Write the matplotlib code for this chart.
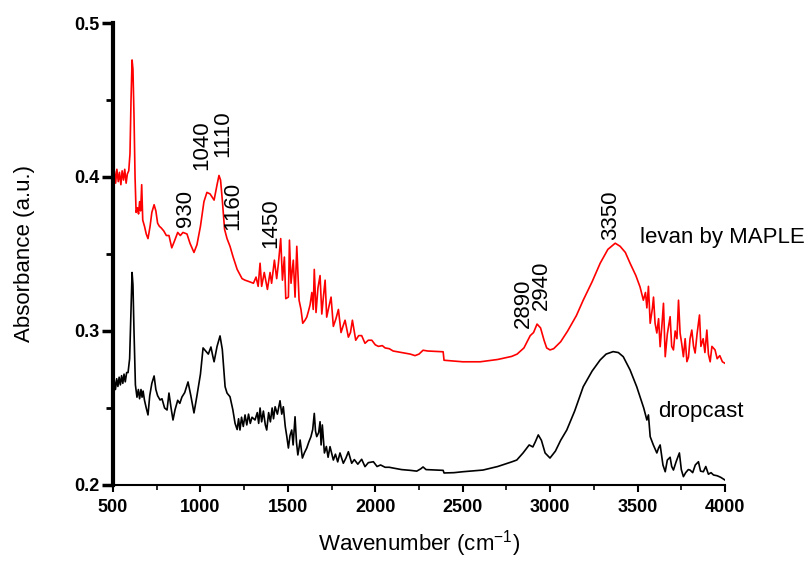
import matplotlib
matplotlib.use('Agg')
import matplotlib.pyplot as plt
from matplotlib.ticker import MultipleLocator

plt.rcParams['font.family'] = ['Liberation Sans', 'DejaVu Sans']
plt.rcParams['mathtext.default'] = 'regular'

# espectro levan por MAPLE (rojo)
maple_wn = [500, 508, 515, 522, 530, 537, 545, 552, 560, 567, 575, 582, 590, 597, 603, 609, 614, 620, 626, 632,
            640, 646, 652, 658, 664, 670, 680, 690, 700, 712, 722, 735, 745, 755, 765, 775, 790, 805, 820, 836,
            850, 870, 885, 900, 923, 940, 963, 980, 1000, 1020, 1037, 1055, 1078, 1095, 1106, 1115, 1125, 1138, 1152, 1169,
            1187, 1210, 1238, 1255, 1280, 1303, 1318, 1330, 1341, 1350, 1365, 1383, 1398, 1407, 1423, 1436, 1446, 1459, 1469, 1480,
            1488, 1503, 1509, 1518, 1531, 1541, 1551, 1564, 1575, 1585, 1598, 1608, 1618, 1627, 1637, 1645, 1651, 1661, 1672, 1684,
            1694, 1703, 1713, 1722, 1735, 1747, 1760, 1775, 1789, 1804, 1815, 1827, 1846, 1858, 1869, 1888, 1905, 1922, 1941, 1960,
            1980, 2000, 2018, 2040, 2056, 2080, 2102, 2150, 2200, 2227, 2250, 2273, 2300, 2388, 2393, 2450, 2500, 2600, 2700, 2780,
            2811, 2850, 2886, 2905, 2925, 2945, 2965, 2980, 2999, 3020, 3060, 3100, 3150, 3189, 3240, 3286, 3330, 3372, 3400, 3430,
            3457, 3490, 3514, 3533, 3545, 3553, 3562, 3572, 3585, 3591, 3600, 3610, 3620, 3629, 3640, 3648, 3658, 3670, 3686, 3695,
            3705, 3715, 3725, 3734, 3743, 3752, 3762, 3772, 3782, 3791, 3800, 3810, 3820, 3829, 3840, 3848, 3854, 3862, 3875, 3885,
            3896, 3905, 3915, 3925, 3943, 3955, 3970, 3985, 4000]
maple_abs = [0.399, 0.404, 0.396, 0.405, 0.397, 0.403, 0.395, 0.404, 0.398, 0.405, 0.396, 0.402, 0.404, 0.415, 0.450, 0.476, 0.470, 0.440, 0.400, 0.377,
             0.380, 0.376, 0.384, 0.378, 0.395, 0.372, 0.368, 0.363, 0.360, 0.368, 0.377, 0.382, 0.378, 0.370, 0.368, 0.367, 0.365, 0.362, 0.362, 0.354,
             0.358, 0.364, 0.362, 0.364, 0.363, 0.357, 0.351, 0.356, 0.368, 0.384, 0.390, 0.389, 0.385, 0.395, 0.401, 0.398, 0.385, 0.366, 0.360, 0.355,
             0.348, 0.340, 0.334, 0.333, 0.332, 0.331, 0.335, 0.329, 0.344, 0.329, 0.338, 0.327, 0.338, 0.331, 0.346, 0.334, 0.344, 0.360, 0.333, 0.348,
             0.321, 0.322, 0.359, 0.331, 0.346, 0.322, 0.355, 0.320, 0.314, 0.305, 0.307, 0.309, 0.313, 0.317, 0.325, 0.314, 0.340, 0.312, 0.328, 0.336,
             0.311, 0.322, 0.333, 0.309, 0.316, 0.322, 0.303, 0.308, 0.314, 0.299, 0.303, 0.307, 0.296, 0.299, 0.307, 0.294, 0.297, 0.297, 0.292, 0.294,
             0.294, 0.291, 0.290, 0.2905, 0.289, 0.2885, 0.287, 0.286, 0.285, 0.284, 0.285, 0.2875, 0.287, 0.2865, 0.281, 0.2805, 0.280, 0.280, 0.2815, 0.2835,
             0.285, 0.289, 0.297, 0.299, 0.3045, 0.302, 0.294, 0.289, 0.2877, 0.2885, 0.293, 0.300, 0.310, 0.320, 0.332, 0.344, 0.353, 0.357, 0.355, 0.351,
             0.344, 0.336, 0.3286, 0.320, 0.325, 0.315, 0.329, 0.305, 0.315, 0.322, 0.305, 0.2987, 0.308, 0.2898, 0.305, 0.318, 0.2833, 0.298, 0.3093, 0.290,
             0.2877, 0.300, 0.295, 0.320, 0.2987, 0.292, 0.2833, 0.295, 0.2801, 0.283, 0.295, 0.3006, 0.290, 0.2857, 0.298, 0.305, 0.3104, 0.290, 0.295, 0.286,
             0.3006, 0.285, 0.280, 0.290, 0.2877, 0.282, 0.284, 0.280, 0.279]

# espectro dropcast (negro)
drop_wn = [500, 507, 514, 521, 528, 535, 542, 549, 556, 563, 570, 578, 586, 595, 602, 609, 614, 620, 628, 637,
           645, 652, 660, 666, 672, 680, 690, 700, 710, 722, 735, 745, 755, 769, 780, 795, 809, 820, 832, 843,
           855, 870, 882, 894, 910, 929, 945, 963, 980, 1000, 1015, 1030, 1045, 1060, 1070, 1078, 1095, 1112, 1125, 1141,
           1152, 1169, 1185, 1198, 1210, 1218, 1226, 1235, 1245, 1255, 1265, 1275, 1285, 1295, 1312, 1325, 1333, 1341, 1350, 1360,
           1371, 1379, 1390, 1400, 1410, 1418, 1427, 1440, 1455, 1465, 1474, 1485, 1494, 1503, 1512, 1522, 1530, 1541, 1549, 1557,
           1565, 1570, 1583, 1595, 1608, 1620, 1632, 1642, 1651, 1658, 1665, 1676, 1684, 1690, 1697, 1709, 1720, 1730, 1741, 1760,
           1772, 1785, 1798, 1817, 1832, 1846, 1865, 1880, 1900, 1922, 1941, 1960, 1989, 2010, 2030, 2056, 2080, 2102, 2150, 2200,
           2237, 2260, 2273, 2290, 2388, 2393, 2450, 2500, 2616, 2700, 2780, 2809, 2845, 2880, 2901, 2915, 2932, 2950, 2971, 2999,
           3030, 3060, 3095, 3140, 3189, 3240, 3286, 3320, 3360, 3390, 3418, 3457, 3495, 3514, 3535, 3553, 3562, 3572, 3590, 3610,
           3620, 3629, 3645, 3658, 3670, 3686, 3695, 3705, 3720, 3739, 3750, 3762, 3775, 3790, 3800, 3815, 3830, 3848, 3860, 3876,
           3890, 3905, 3920, 3934, 3955, 3975, 4000]
drop_abs = [0.264, 0.268, 0.262, 0.269, 0.264, 0.270, 0.265, 0.271, 0.266, 0.272, 0.267, 0.273, 0.273, 0.282, 0.310, 0.338, 0.330, 0.300, 0.265, 0.257,
            0.262, 0.256, 0.262, 0.257, 0.261, 0.255, 0.250, 0.2455, 0.258, 0.266, 0.2708, 0.262, 0.258, 0.2552, 0.256, 0.250, 0.2487, 0.2597, 0.250, 0.2422,
            0.249, 0.255, 0.253, 0.2571, 0.260, 0.2669, 0.258, 0.2468, 0.258, 0.272, 0.289, 0.287, 0.285, 0.2896, 0.284, 0.280, 0.290, 0.2968, 0.288, 0.2638,
            0.2597, 0.2573, 0.249, 0.240, 0.236, 0.243, 0.2357, 0.244, 0.238, 0.2455, 0.239, 0.246, 0.240, 0.244, 0.2422, 0.247, 0.240, 0.250, 0.241, 0.248,
            0.239, 0.2357, 0.247, 0.241, 0.250, 0.243, 0.2508, 0.246, 0.2547, 0.246, 0.2508, 0.238, 0.2314, 0.224, 0.232, 0.2357, 0.226, 0.2443, 0.228, 0.2195,
            0.225, 0.2292, 0.2175, 0.221, 0.224, 0.228, 0.2314, 0.236, 0.2465, 0.235, 0.2314, 0.234, 0.2411, 0.226, 0.239, 0.2208, 0.225, 0.218, 0.2249, 0.2162,
            0.220, 0.215, 0.2208, 0.2141, 0.2175, 0.2216, 0.2141, 0.2165, 0.2135, 0.2167, 0.2119, 0.2145, 0.2151, 0.212, 0.213, 0.2115, 0.2115, 0.211, 0.210, 0.2095,
            0.209, 0.2105, 0.2117, 0.210, 0.2095, 0.2078, 0.208, 0.2086, 0.2097, 0.212, 0.215, 0.2162, 0.2208, 0.226, 0.2247, 0.228, 0.2325, 0.229, 0.2208, 0.2175,
            0.222, 0.229, 0.2357, 0.248, 0.2638, 0.274, 0.2812, 0.285, 0.2866, 0.286, 0.2833, 0.2747, 0.2638, 0.2573, 0.250, 0.2422, 0.2455, 0.2314, 0.226, 0.2208,
            0.224, 0.226, 0.213, 0.2086, 0.2162, 0.218, 0.212, 0.2097, 0.215, 0.2208, 0.210, 0.2054, 0.208, 0.210, 0.2097, 0.208, 0.213, 0.2151, 0.209, 0.2086,
            0.212, 0.207, 0.208, 0.2065, 0.206, 0.205, 0.2032]

# etiquetas de picos
peak_labels = ['930', '1040', '1110', '1160', '1450', '2890', '2940', '3350']
peak_x = [917, 1009, 1129, 1186, 1404, 2845, 2948, 3348]
peak_y = [0.3675, 0.4045, 0.413, 0.3656, 0.354, 0.302, 0.3136, 0.359]

fig = plt.figure(figsize=(8.09, 5.61), dpi=100)
ax = fig.add_axes([0.1397, 0.1355, 0.7565, 0.8235])

ax.plot(maple_wn, maple_abs, color='red', lw=1.2)
ax.plot(drop_wn, drop_abs, color='black', lw=1.2)

for lab, px, py in zip(peak_labels, peak_x, peak_y):
    ax.text(px, py, lab, rotation=90, ha='center', va='bottom', fontsize=16)

ax.text(3514, 0.3604, 'levan by MAPLE', ha='left', va='center', fontsize=16)
ax.text(3617, 0.248, 'dropcast', ha='left', va='center', fontsize=16)

ax.set_xlim(500, 4000)
ax.set_ylim(0.2, 0.5)
ax.xaxis.set_major_locator(MultipleLocator(500))
ax.xaxis.set_minor_locator(MultipleLocator(250))
ax.yaxis.set_major_locator(MultipleLocator(0.1))
ax.yaxis.set_minor_locator(MultipleLocator(0.05))
ax.yaxis.set_major_formatter(plt.FormatStrFormatter('%.1f'))

ax.spines['top'].set_visible(False)
ax.spines['right'].set_visible(False)
ax.spines['left'].set_linewidth(3)
ax.spines['bottom'].set_linewidth(1.5)

ax.tick_params(axis='y', which='major', direction='out', length=8, width=2.5, labelsize=13, pad=2)
ax.tick_params(axis='y', which='minor', direction='out', length=5, width=2)
ax.tick_params(axis='x', which='major', direction='out', length=5, width=1.5, labelsize=13, pad=5)
ax.tick_params(axis='x', which='minor', direction='out', length=3.5, width=1.2)
for t in ax.get_xticklabels() + ax.get_yticklabels():
    t.set_fontweight('bold')

ax.set_xlabel('Wavenumber (cm$^{-1}$)', fontsize=16, labelpad=9)
ax.set_ylabel('Absorbance (a.u.)', fontsize=16, labelpad=28)

fig.savefig('out.png', dpi=100)
